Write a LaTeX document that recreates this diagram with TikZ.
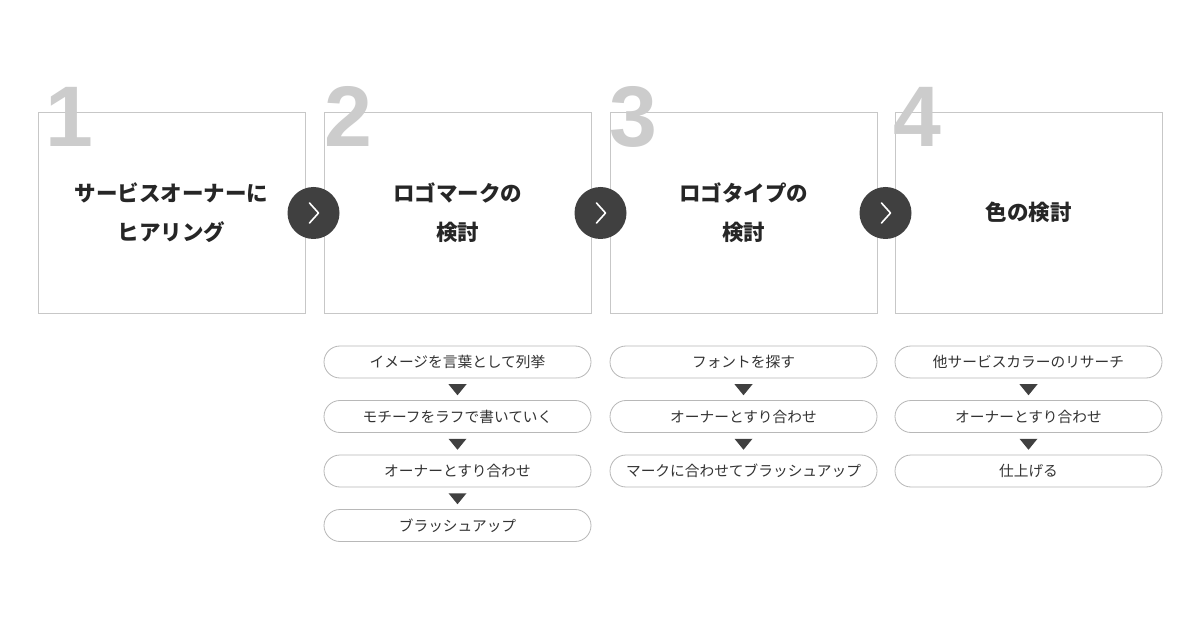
\documentclass[tikz,border=0pt]{standalone}
\usepackage{fontspec}
\usetikzlibrary{calc}
\setmainfont{Noto Sans CJK JP}
\newfontfamily\numfont{Liberation Sans}
\begin{document}
\begin{tikzpicture}[x=1pt,y=-1pt,
  stepbox/.style={draw=black!22,line width=0.9pt,fill=white,minimum width=267pt,minimum height=201pt,inner sep=0pt},
  steptitle/.style={font=\fontsize{21.5}{39}\selectfont\bfseries,text=black!85,align=center},
  num/.style={font=\numfont\fontsize{86}{86}\selectfont\bfseries,text=black!20,anchor=base west,inner sep=0pt},
  pill/.style={draw=black!28,line width=0.8pt,rounded corners=16pt,minimum width=267pt,minimum height=32pt,inner sep=0pt,font=\fontsize{14.7}{16}\selectfont,text=black!80},
  tri/.style={fill=black!75},
  circ/.style={circle,fill=black!75,minimum size=52pt,inner sep=0pt},
  chev/.style={draw=white,line width=1.6pt,line cap=round,line join=round}
]
\useasboundingbox (0,0) rectangle (1200,628);
\fill[white] (0,0) rectangle (1200,628);

% boxes
\node[stepbox] (b1) at (171.5,212.5) {};
\node[stepbox] (b2) at (457.5,212.5) {};
\node[stepbox] (b3) at (743.5,212.5) {};
\node[stepbox] (b4) at (1028.5,212.5) {};

% numbers
\node[num] (n1) at (45,147) {1};
\node[num] (n2) at (324,147) {2};
\node[num] (n3) at (609,147) {3};
\node[num] (n4) at (893,147) {4};

\node[steptitle] (t1) at (171.5,212.5) {サービスオーナーに\\ヒアリング};
\node[steptitle] (t2) at (457.5,212.5) {ロゴマークの\\検討};
\node[steptitle] (t3) at (743.5,212.5) {ロゴタイプの\\検討};
\node[steptitle] (t4) at (1028.5,212.5) {色の検討};

% arrows circles
\foreach \i/\cx in {1/313.5,2/600.5,3/885.5}{
  \node[circ] (c\i) at (\cx,213) {};
  \draw[chev] ($(c\i)+(-4,-10)$) -- ($(c\i)+(5,0)$) -- ($(c\i)+(-4,10)$);
}

% pills column 2
\node[pill] (p21) at (457.5,362) {イメージを言葉として列挙};
\node[pill] (p22) at (457.5,416.5) {モチーフをラフで書いていく};
\node[pill] (p23) at (457.5,471) {オーナーとすり合わせ};
\node[pill] (p24) at (457.5,525.5) {ブラッシュアップ};
% column 3
\node[pill] (p31) at (743.5,362) {フォントを探す};
\node[pill] (p32) at (743.5,416.5) {オーナーとすり合わせ};
\node[pill] (p33) at (743.5,471) {マークに合わせてブラッシュアップ};
% column 4
\node[pill] (p41) at (1028.5,362) {他サービスカラーのリサーチ};
\node[pill] (p42) at (1028.5,416.5) {オーナーとすり合わせ};
\node[pill] (p43) at (1028.5,471) {仕上げる};

% triangles
\foreach \a/\b in {p21/p22,p22/p23,p23/p24,p31/p32,p32/p33,p41/p42,p42/p43}{
  \coordinate (m) at ($(\a.south)!0.5!(\b.north)$);
  \fill[tri] ($(m)+(-9,-5)$) -- ($(m)+(9,-5)$) -- ($(m)+(0,6)$) -- cycle;
}
\end{tikzpicture}
\end{document}
